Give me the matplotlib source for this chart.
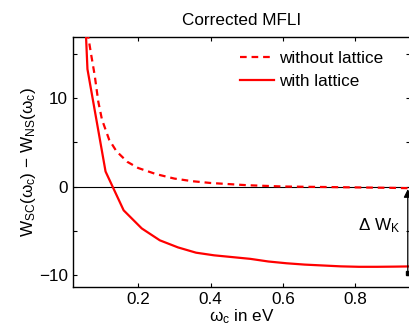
import matplotlib
matplotlib.use('Agg')
import matplotlib.pyplot as plt

plt.rcParams['font.family'] = ['Liberation Sans', 'DejaVu Sans']
plt.rcParams['mathtext.fontset'] = 'custom'
plt.rcParams['mathtext.rm'] = 'Liberation Sans'
plt.rcParams['mathtext.it'] = 'Liberation Sans'

# with lattice (solid)
omega_with = [0.01, 0.06, 0.11, 0.16, 0.21, 0.26, 0.31, 0.36, 0.41, 0.46, 0.51,
              0.56, 0.61, 0.66, 0.71, 0.76, 0.81, 0.86, 0.91, 0.96]
w_with = [60.0, 13.3, 1.7, -2.7, -4.75, -6.1, -6.9, -7.5, -7.8, -8.0, -8.2,
          -8.5, -8.7, -8.85, -8.95, -9.05, -9.1, -9.1, -9.08, -9.05]

# without lattice (dashed)
omega_without = [0.06, 0.07, 0.08, 0.09, 0.10, 0.12, 0.14, 0.17, 0.20, 0.25,
                 0.30, 0.35, 0.40, 0.50, 0.60, 0.70, 0.80, 0.90, 0.96]
w_without = [17.5, 15.0, 12.6, 9.6, 7.6, 5.3, 4.0, 2.8, 2.1, 1.4,
             0.9, 0.6, 0.4, 0.15, 0.0, -0.05, -0.1, -0.15, -0.2]

x_ticks = [0.2, 0.4, 0.6, 0.8]
y_ticks = [-10, -5, 0, 5, 10, 15]
y_ticklabels = ['\u221210', '', '0', '', '10', '']

fs = 12.3

fig = plt.figure(figsize=(4.1, 3.35), dpi=100)
ax = fig.add_axes([0.178, 0.143, 0.821, 0.748])

ax.axhline(0, color='black', lw=0.8, zorder=1)
ax.plot(omega_without, w_without, color='red', lw=1.6, ls=(0, (3, 2.2)),
        label='without lattice', zorder=3)
ax.plot(omega_with, w_with, color='red', lw=1.6, label='with lattice', zorder=3)

# Delta W_K arrow
ax.annotate('', xy=(0.945, -0.3), xytext=(0.945, -9.8),
            arrowprops=dict(arrowstyle='-|>', color='black', lw=0.9,
                            mutation_scale=12, shrinkA=0, shrinkB=0))
ax.plot([0.945], [-9.8], marker='s', color='black', ms=3.5, clip_on=False)
ax.text(0.925, -4.4, r'$\Delta$ W$_\mathrm{K}$', ha='right', va='center', fontsize=fs)

ax.set_xlim(0.02, 0.95)
ax.set_ylim(-11.4, 17)
ax.set_xticks(x_ticks)
ax.set_yticks(y_ticks)
ax.set_yticklabels(y_ticklabels)
ax.tick_params(direction='in', top=True, right=True, labelsize=fs, length=3)
for s in ax.spines.values():
    s.set_linewidth(1.0)

ax.set_title('Corrected MFLI', fontsize=fs, pad=8)
ax.set_xlabel(r'$\omega_\mathrm{c}$ in eV', fontsize=fs, labelpad=0)
ax.set_ylabel(r'W$_\mathrm{SC}$($\omega_\mathrm{c}$) $-$ W$_\mathrm{NS}$($\omega_\mathrm{c}$)',
              fontsize=fs, labelpad=1)

ax.legend(loc='upper right', bbox_to_anchor=(0.955, 0.985), frameon=False, fontsize=fs,
          handlelength=2.0, handletextpad=0.3, borderaxespad=0.25, labelspacing=0.45)

fig.savefig('out.png', dpi=100)
